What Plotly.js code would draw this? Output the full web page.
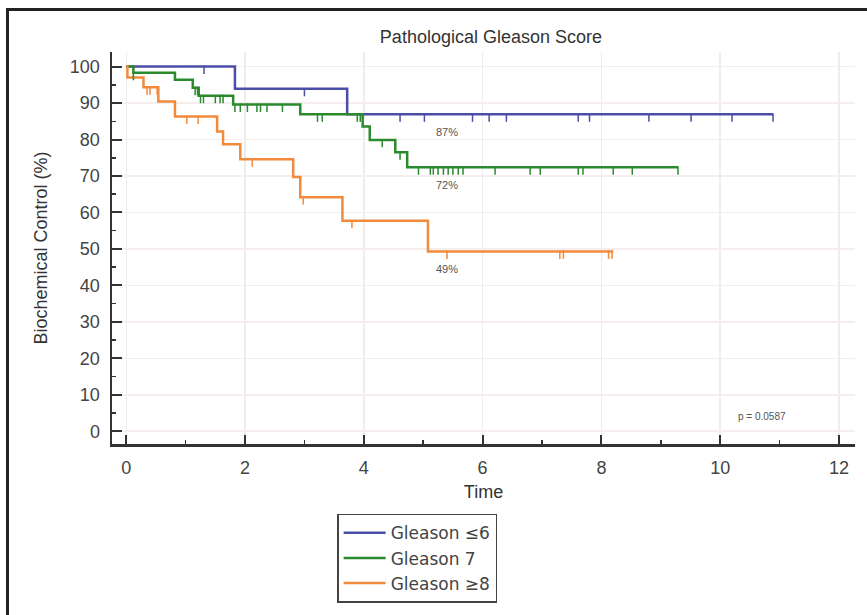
<!DOCTYPE html>
<html>
<head>
<meta charset="utf-8">
<script src="https://cdn.plot.ly/plotly-3.0.1.min.js"></script>
<style>
  html, body { margin: 0; padding: 0; background: #fff; overflow: hidden; }
  #chart { width: 867px; height: 615px; }
  #frame { position: absolute; left: 6px; top: 8px; width: 900px; height: 700px;
           border-left: 3px solid #222; border-top: 3px solid #222; pointer-events: none; }
</style>
</head>
<body>
<div id="chart"></div>
<div id="frame"></div>
<script>
// ---- Data ----
const groupNames = ["Gleason ≤6", "Gleason 7", "Gleason ≥8"];
const groupColors = ["#4b4ea6", "#2b8a2e", "#f28a3c"];

// step times (years) and survival (%) after each step
const times6 = [0, 1.83, 3.72];
const surv6  = [100, 93.9, 86.9];
const end6   = 10.89;
const censor6 = [1.31, 3.0, 4.61, 5.02, 5.83, 6.11, 6.4, 7.61, 7.8, 8.8, 9.51, 10.2, 10.89];

const times7 = [0, 0.12, 0.82, 1.12, 1.22, 1.8, 2.93, 3.98, 4.1, 4.53, 4.73];
const surv7  = [100, 98.3, 96.4, 94.2, 92.0, 89.6, 86.9, 83.6, 79.9, 76.5, 72.4];
const end7   = 9.29;
const censor7 = [0.12, 1.16, 1.2, 1.25, 1.3, 1.5, 1.58, 1.63, 1.83, 1.92, 2.04, 2.2, 2.26, 2.37, 2.63,
                 3.22, 3.3, 3.89, 3.94, 4.31, 4.61, 4.92, 5.12, 5.17, 5.25, 5.34, 5.42, 5.5, 5.59, 5.67,
                 6.21, 6.8, 6.97, 7.61, 7.69, 8.2, 8.52, 9.29];

const times8 = [0, 0.02, 0.29, 0.54, 0.82, 1.53, 1.63, 1.92, 2.81, 2.93, 3.64, 5.08];
const surv8  = [100, 97.0, 94.3, 90.4, 86.3, 82.2, 78.7, 74.6, 69.7, 64.2, 57.7, 49.3];
const end8   = 8.2;
const censor8 = [0.35, 0.4, 0.52, 1.02, 1.21, 2.12, 2.98, 3.8, 5.4, 7.3, 7.36, 8.12, 8.18];

const finalLabels = ["87%", "72%", "49%"];
const labelTime = 5.4;
const pText = "p = 0.0587";
const pTime = 10.7;
const pValueY = 4;

const xTicks = [0, 2, 4, 6, 8, 10, 12];
const yTicks = [0, 10, 20, 30, 40, 50, 60, 70, 80, 90, 100];

// ---- Build traces ----
const groups = [
  {t: times6, s: surv6, end: end6, c: censor6},
  {t: times7, s: surv7, end: end7, c: censor7},
  {t: times8, s: surv8, end: end8, c: censor8}
];

function survAt(g, time) {
  let v = g.s[0];
  for (let i = 0; i < g.t.length; i++) { if (g.t[i] <= time) v = g.s[i]; }
  return v;
}

const traces = [];
groups.forEach((g, i) => {
  traces.push({
    type: "scatter", mode: "lines", name: groupNames[i],
    x: g.t.concat([g.end]), y: g.s.concat([g.s[g.s.length - 1]]),
    line: {shape: "hv", color: groupColors[i], width: 2.5},
    hoverinfo: "skip"
  });
});
groups.forEach((g, i) => {
  traces.push({
    type: "scatter", mode: "markers", showlegend: false,
    x: g.c, y: g.c.map(t => survAt(g, t) - 0.9),
    marker: {symbol: "line-ns", size: 6, color: groupColors[i], line: {color: groupColors[i], width: 1.5}},
    hoverinfo: "skip"
  });
});

const annotations = groups.map((g, i) => ({
  x: labelTime, y: g.s[g.s.length - 1], xref: "x", yref: "y",
  text: finalLabels[i], showarrow: false, yshift: -18,
  font: {family: "Liberation Sans, Arial, sans-serif", size: 11, color: "#555"}
}));
annotations.push({
  x: pTime, y: pValueY, xref: "x", yref: "y", text: pText, showarrow: false,
  font: {family: "Liberation Sans, Arial, sans-serif", size: 10, color: "#555"}
});

const font = "Liberation Sans, Arial, sans-serif";
const layout = {
  width: 867, height: 615,
  margin: {l: 112, r: 12, t: 52, b: 169},
  paper_bgcolor: "#fff", plot_bgcolor: "#fff",
  font: {family: font, color: "#444"},
  title: {text: "Pathological Gleason Score", font: {family: font, size: 18, color: "#333"},
          xref: "paper", x: 0.51, yref: "container", y: 1 - 37 / 615, yanchor: "middle"},
  xaxis: {
    range: [-0.24, 12.27], tickvals: xTicks, ticktext: xTicks.map(String),
    ticks: "inside", ticklen: 9, tickwidth: 2, tickcolor: "#333",
    showline: true, linecolor: "#333", linewidth: 2.5,
    showgrid: true, gridcolor: "#ededed", gridwidth: 1.5, zeroline: false,
    minor: {ticks: "inside", dtick: 1, tick0: 0, ticklen: 4, tickwidth: 1.5, tickcolor: "#333", showgrid: false},
    tickfont: {family: font, size: 18, color: "#444"}, ticklabelstandoff: 6,
    title: {text: "Time", font: {family: font, size: 18, color: "#333"}, standoff: 9},
    automargin: false, fixedrange: true
  },
  yaxis: {
    range: [-3.5, 104], tickvals: yTicks, ticktext: yTicks.map(String),
    ticks: "inside", ticklen: 10, tickwidth: 2, tickcolor: "#333",
    showline: true, linecolor: "#333", linewidth: 2.5,
    showgrid: true, gridcolor: "#f6eeee", gridwidth: 1.5, zeroline: false,
    minor: {ticks: "inside", dtick: 5, tick0: 0, ticklen: 4, tickwidth: 1.5, tickcolor: "#333", showgrid: false},
    tickfont: {family: font, size: 18, color: "#444"}, ticklabelstandoff: 6,
    title: {text: "Biochemical Control (%)", font: {family: font, size: 18, color: "#333"}, standoff: 18},
    automargin: false, fixedrange: true
  },
  legend: {
    x: 0.303, y: -0.178, xanchor: "left", yanchor: "top",
    bordercolor: "#444", borderwidth: 1.5, bgcolor: "#fff",
    itemwidth: 42,
    entrywidth: 178, entrywidthmode: "pixels",
    font: {family: "DejaVu Sans, sans-serif", size: 17, color: "#444"}
  },
  annotations: annotations,
  showlegend: true
};

Plotly.newPlot("chart", traces, layout, {displayModeBar: false, staticPlot: true});
</script>
</body>
</html>
